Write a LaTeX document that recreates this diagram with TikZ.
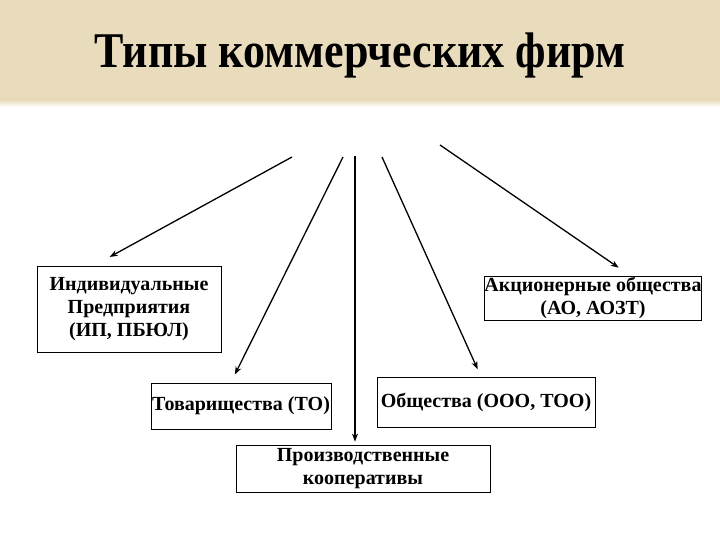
\documentclass[tikz,border=0pt]{standalone}
\usepackage{fontspec}
\setmainfont{Liberation Serif}
\usetikzlibrary{calc,arrows.meta}
\definecolor{parchment}{RGB}{233,220,188}
\tikzset{
    firm/.style={draw=black, line width=0.8pt, inner sep=0pt, align=center,
        font=\fontsize{20}{23}\selectfont\bfseries},
    link/.style={black, -{Stealth[length=8pt,width=6pt]}, line width=1.3pt}
}
\begin{document}
\begin{tikzpicture}[x=1pt,y=-1pt]
    \useasboundingbox (0,0) rectangle (720,540);
    % title band
    \fill[parchment] (0,0) rectangle (720,100);
    \shade[top color=parchment, bottom color=white] (0,100) rectangle (720,107);
    \node[font=\fontsize{50}{50}\selectfont\bfseries, xscale=0.88] (title) at (360,55) {Типы коммерческих фирм};
    % boxes
    \node[firm, minimum width=184pt, minimum height=86pt] (ip) at (129,309) {Индивидуальные\\Предприятия\\(ИП, ПБЮЛ)};
    \node[firm, minimum width=216pt, minimum height=44pt] (ao) at (593,298) {Акционерные общества\\(АО, АОЗТ)};
    \node[firm, minimum width=180pt, minimum height=46pt] (to) at (241,406) {Товарищества (ТО)};
    \node[firm, minimum width=218pt, minimum height=50pt] (ooo) at (486,402) {Общества (ООО, ТОО)};
    \node[firm, minimum width=254pt, minimum height=47pt] (pk) at (363,468.5) {Производственные\\кооперативы};
    % arrows
    \coordinate (s1) at (292,157);
    \coordinate (s2) at (343,157);
    \coordinate (s3) at (355,156);
    \coordinate (s4) at (382,157);
    \coordinate (s5) at (440,145);
    \draw[link, shorten >=18pt] (s1) -- ($(ip.north west)!0.31!(ip.north east)$);
    \draw[link, shorten >=9pt] (s2) -- ($(to.north west)!0.444!(to.north east)$);
    \draw[link, shorten >=3pt] (s3) -- (s3 |- pk.north);
    \draw[link, shorten >=8pt] (s4) -- ($(ooo.north west)!0.477!(ooo.north east)$);
    \draw[link, shorten >=14pt] (s5) -- ($(ao.north west)!0.671!(ao.north east)$);
\end{tikzpicture}
\end{document}
